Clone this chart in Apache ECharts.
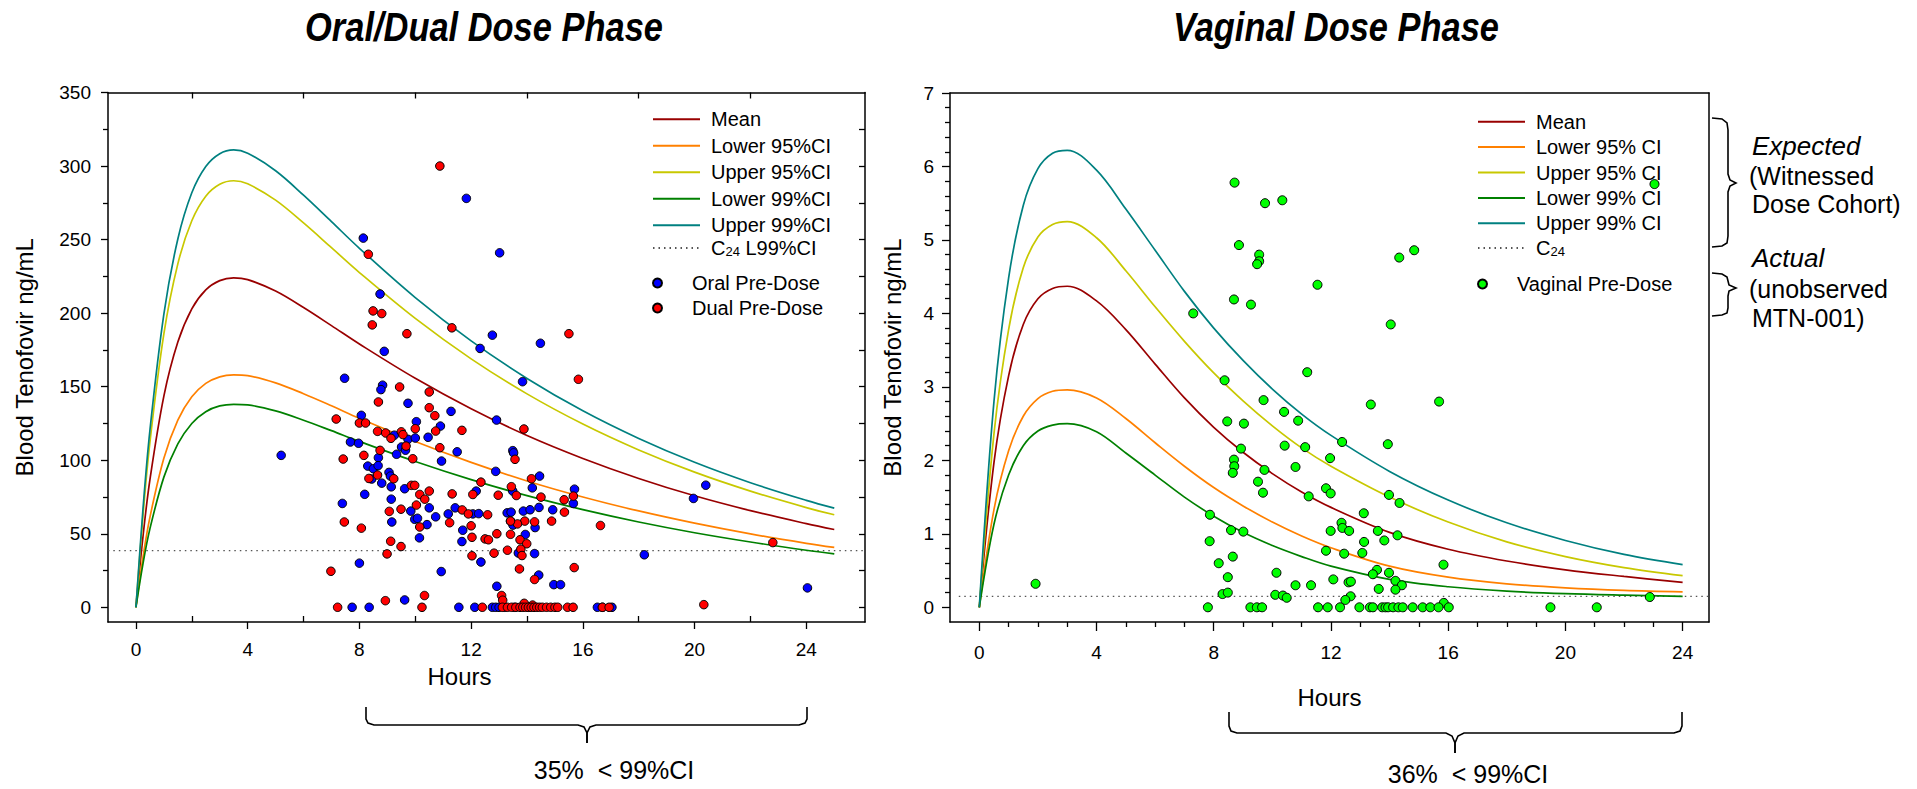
<!DOCTYPE html>
<html><head><meta charset="utf-8">
<script src="https://cdn.jsdelivr.net/npm/echarts@6/dist/echarts.min.js"></script>
<style>html,body{margin:0;padding:0;background:#fff}#c{width:1917px;height:789px}</style>
</head><body><div id="c"></div>
<script>
// ================= DATA =================
// Left panel: Oral/Dual Dose Phase (ng/mL vs hours)
const leftTimes   = [0,0.25,0.5,1,1.5,2,2.5,3,3.5,4,5,6,7,8,10,12,14,16,18,20,22,24,25];
const leftMean    = [0,47.7,86.6,143.6,180.3,202.9,215.8,222.1,224,222.8,215,203.8,191.5,179,155.7,135,116.8,101.2,87.6,75.8,65.7,56.9,52.9];
const leftLow95   = [0,33.7,61.1,101.3,127.2,143.1,152.2,156.7,158,157.5,152.6,145.2,137,128.5,112.7,98.5,85.9,75,65.5,57.2,49.9,43.5,40.7];
const leftUp95    = [0,61.7,112.1,185.9,233.5,262.8,279.5,287.6,290,287.9,276.8,261.3,244.5,227.6,196.4,168.9,145.1,124.6,107,91.9,79,67.8,62.9];
const leftLow99   = [0,29.4,53.3,88.5,111.1,125,133,136.9,138,137.6,133.5,127.2,120.1,112.8,99.1,86.8,75.9,66.4,58,50.7,44.4,38.8,36.3];
const leftUp99    = [0,66.2,120.2,199.4,250.4,281.8,299.7,308.4,311,308.7,296.8,280.2,262.2,244.1,210.6,181.1,155.6,133.6,114.8,98.6,84.7,72.7,67.4];
const leftC24     = 38.5;
const oralPreDose = [
 [11.83,278],[8.14,251],[13.02,241],[8.74,213],[12.76,185],[12.32,176],[14.48,179.5],[8.89,174],
 [7.47,155.7],[13.84,153.4],[8.83,151],[8.77,148],[9.74,138.7],[11.28,133.2],[8.07,130.5],[12.91,127.3],
 [10.04,126.2],[10.9,123.2],[9.25,117],[9.74,114.2],[10.0,115.1],[10.46,115.6],[9.51,109],[9.65,106.8],
 [7.68,112.4],[7.97,111.5],[11.5,105.7],[9.33,104],[8.68,101.7],[10.94,99.4],[13.49,106.5],[13.52,105],
 [8.3,96],[8.5,94.2],[8.67,96.3],[12.88,92.4],[9.06,91.7],[9.11,89.2],[8.44,87.2],[8.8,84.4],[14.45,89.2],
 [14.19,81.2],[9.14,81.9],[9.62,80.6],[12.18,79],[13.49,79],[15.7,80.3],[8.19,76.8],[9.14,73.5],[15.66,70.6],
 [7.39,70.6],[10.5,67.6],[11.43,67.6],[9.84,65.4],[14.92,66.3],[12.06,63.5],[12.27,63.7],[11.18,63.5],
 [10.73,61.5],[13.29,64.2],[13.43,64.7],[13.87,65.4],[14.11,66.3],[14.43,67.9],[14.29,54.2],[13.94,49.5],
 [13.41,58.6],[13.5,55.9],[9.16,58],[9.98,59.8],[10.08,60.5],[10.42,56.2],[11.7,52.4],[11.67,44.7],
 [10.15,47.2],[13.69,36.9],[14.27,36.5],[12.35,30.8],[8.0,30],[10.93,24.3],[14.42,21.9],[14.96,15.4],
 [15.2,15.4],[12.92,14.3],[9.62,5],[5.2,103.3],[18.2,35.7],[24.04,13.2],[19.96,74],[20.4,83],
 [7.74,0],[8.35,0],[11.56,0],[12.13,0],[12.76,0],[12.88,0],[13.0,0],[13.2,0],[13.55,0],[14.05,0],
 [16.52,0],[16.7,0],[17.04,0]
];
const dualPreDose = [
 [10.88,300],[8.32,240],[8.49,201.5],[8.8,199.7],[8.46,192],[9.70,186],[11.31,190],[15.5,186],[15.84,155],
 [9.44,149.8],[10.5,146.4],[8.68,139.6],[10.5,135.7],[10.7,130.3],[7.17,128],[8.0,125.3],[8.22,125.3],
 [13.89,121.2],[11.67,120.3],[10.0,121.4],[10.73,119.8],[8.65,119.6],[8.94,118.5],[9.13,114.9],[9.5,119.3],
 [9.56,117.4],[9.67,109.6],[8.74,106.7],[10.88,108.5],[7.42,100.8],[8.16,103.3],[9.91,101],[13.57,100.6],
 [8.65,89.9],[9.23,87.4],[8.34,87.6],[12.35,85.1],[14.16,87.4],[9.86,82.9],[9.98,82.9],[13.44,82],
 [10.16,76.7],[10.5,79],[11.32,77.1],[12.06,76.7],[12.97,76.2],[13.62,76],[14.5,74.9],[15.33,73.1],
 [15.66,75.6],[10.34,73.5],[10.04,69.5],[9.49,66.7],[9.07,65.2],[15.34,64.7],[11.68,66.2],[11.9,63.5],
 [12.59,62.9],[13.92,58.6],[14.27,58.1],[13.66,56.7],[13.41,58.6],[14.88,58.6],[16.63,55.6],[7.46,58],
 [8.07,53.8],[10.16,54.6],[11.23,57.5],[12.0,55.4],[12.03,47.6],[12.5,46.5],[12.62,45.9],[12.92,50],
 [13.41,49.6],[13.75,45.9],[13.99,43.2],[9.12,44.9],[9.49,41.3],[8.99,36.3],[12.03,35],[12.82,36.8],
 [13.3,38.8],[13.78,39.5],[13.82,35.2],[15.69,27],[6.98,24.5],[13.73,26.1],[14.27,18.9],[13.09,8],
 [13.13,4.8],[10.33,8],[8.93,4.5],[22.8,44],[20.33,1.8],[13.9,2.7],[14.2,1.5],
 [7.22,0],[10.24,0],[12.4,0],[13.12,0],[13.3,0],[13.45,0],[13.6,0],[13.75,0],[13.85,0],[13.95,0],
 [14.05,0],[14.15,0],[14.25,0],[14.35,0],[14.45,0],[14.55,0],[14.7,0],[14.85,0],[15.0,0],[15.1,0],
 [15.45,0],[15.65,0],[16.7,0],[16.94,0]
];
const leftXTicks      = [0,4,8,12,16,20,24];
const leftXMinorTicks = [2,6,10,14,18,22];
const leftYTicks      = [0,50,100,150,200,250,300,350];
const leftYMinorTicks = [25,75,125,175,225,275,325];
const leftYRightTicks = [0,25,50,75,100,125,150,175,200,225,250,275,300,325];

// Right panel: Vaginal Dose Phase
const rightTimes  = [0,0.5,1,1.5,2,2.5,3,4,5,6,7,8,9,10,11,12,14,16,18,20,22,24];
const rightMean   = [0,1.97,3.15,3.85,4.20,4.34,4.37,4.17,3.78,3.31,2.85,2.45,2.11,1.82,1.57,1.36,1.02,0.79,0.63,0.51,0.42,0.34];
const rightLow95  = [0,1.33,2.13,2.60,2.84,2.94,2.96,2.85,2.57,2.24,1.92,1.63,1.38,1.16,0.97,0.81,0.56,0.41,0.32,0.265,0.23,0.21];
const rightUp95   = [0,2.36,3.78,4.62,5.04,5.21,5.25,5.03,4.58,4.09,3.62,3.19,2.81,2.47,2.17,1.92,1.50,1.16,0.89,0.69,0.54,0.43];
const rightLow99  = [0,1.13,1.80,2.20,2.40,2.48,2.50,2.39,2.10,1.80,1.50,1.24,1.02,0.84,0.69,0.56,0.38,0.28,0.22,0.185,0.165,0.15];
const rightUp99   = [0,2.80,4.48,5.47,5.97,6.18,6.22,5.95,5.42,4.86,4.30,3.80,3.36,2.97,2.63,2.34,1.85,1.46,1.15,0.91,0.72,0.58];
const rightC24    = 0.15;
const vaginalPreDose = [
 [8.71,5.78],[9.75,5.50],[10.34,5.54],[8.86,4.93],[9.55,4.80],[9.55,4.71],[9.48,4.67],[11.54,4.39],
 [14.33,4.76],[14.84,4.86],[7.3,4.0],[8.69,4.19],[9.27,4.12],[14.04,3.85],[11.19,3.20],[8.37,3.09],
 [9.7,2.82],[10.4,2.66],[10.88,2.54],[8.46,2.53],[9.03,2.50],[13.36,2.76],[15.69,2.80],[23.04,5.76],
 [12.38,2.25],[13.94,2.22],[8.93,2.16],[10.42,2.20],[11.12,2.18],[11.97,2.03],[8.69,2.01],[8.7,1.92],
 [8.65,1.83],[10.79,1.91],[9.73,1.87],[9.51,1.71],[9.68,1.56],[11.83,1.62],[11.99,1.55],[11.24,1.51],
 [13.98,1.53],[14.34,1.42],[7.87,1.26],[8.59,1.05],[9.01,1.03],[13.12,1.28],[12.36,1.15],[12.39,1.08],
 [12.62,1.04],[11.99,1.04],[13.6,1.04],[14.27,0.98],[13.82,0.91],[13.13,0.89],[7.86,0.90],[11.83,0.77],
 [12.45,0.73],[13.07,0.74],[8.65,0.69],[8.17,0.60],[15.84,0.58],[10.14,0.47],[8.48,0.41],[13.57,0.51],
 [13.43,0.45],[13.98,0.47],[12.08,0.38],[12.6,0.34],[12.68,0.35],[14.2,0.36],[14.42,0.30],[10.79,0.30],
 [11.32,0.30],[13.63,0.25],[14.2,0.24],[8.3,0.18],[8.48,0.20],[10.1,0.17],[10.36,0.16],[10.49,0.13],
 [12.67,0.15],[12.49,0.10],[15.85,0.06],[22.88,0.14],[1.92,0.32],
 [7.8,0],[9.25,0],[9.47,0],[9.65,0],[11.56,0],[11.89,0],[12.31,0],[12.97,0],[13.33,0],[13.43,0],
 [13.75,0],[13.86,0],[13.95,0],[14.12,0],[14.3,0],[14.45,0],[14.79,0],[15.13,0],[15.39,0],[15.67,0],
 [16.02,0],[19.49,0],[21.07,0]
];
const rightXTicks      = [0,4,8,12,16,20,24];
const rightXMinorTicks = [1,2,3,5,6,7,9,10,11,13,14,15,17,18,19,21,22,23];
const rightYTicks      = [0,1,2,3,4,5,6,7];
const rightYMinorTicks = [0.2,0.4,0.6,0.8,1.2,1.4,1.6,1.8,2.2,2.4,2.6,2.8,3.2,3.4,3.6,3.8,4.2,4.4,4.6,4.8,5.2,5.4,5.6,5.8,6.2,6.4,6.6,6.8];

// ================= RENDER =================
const FONT = '"Liberation Sans", Arial, Helvetica, sans-serif';
const COL = {mean:'#990000', low95:'#FF8000', up95:'#C8C800', low99:'#008000', up99:'#008080'};
const pairs = (ts, vs) => ts.map((t, i) => [t, vs[i]]);
const chart = echarts.init(document.getElementById('c'), null, {renderer:'svg'});

const baseAxis = (o) => Object.assign({
  type:'value', splitLine:{show:false},
  axisLine:{show:false, onZero:false, lineStyle:{color:'#000', width:1.5}},
  axisTick:{show:false}, axisLabel:{show:false}
}, o);

function lineSeries(name, xi, ts, vs, color) {
  return {type:'line', name, xAxisIndex:xi, yAxisIndex:xi, data:pairs(ts, vs), symbol:'none', showSymbol:false,
    smooth:0.35, lineStyle:{color, width:1.7}, itemStyle:{color:'rgba(0,0,0,0)', borderWidth:0}, z:2, silent:true, animation:false};
}
function c24Series(name, xi, x0, x1, v) {
  return {type:'line', name, xAxisIndex:xi, yAxisIndex:xi, data:[[x0, v],[x1, v]], symbol:'none', clip:false,
    lineStyle:{color:'#555', width:1.3, type:[1.5,4]}, itemStyle:{color:'rgba(0,0,0,0)', borderWidth:0}, z:1, silent:true, animation:false};
}
function scatterSeries(name, xi, data, color, size) {
  return {type:'scatter', name, xAxisIndex:xi, yAxisIndex:xi, data, symbol:'circle', symbolSize:size,
    itemStyle:{color, borderColor:'#000', borderWidth:1, opacity:1}, z:5, silent:true, animation:false};
}
const legendBase = (o) => Object.assign({orient:'vertical', padding:0, itemWidth:47, itemHeight:14,
  textStyle:{fontFamily:FONT, fontSize:20, color:'#000', lineHeight:20, padding:[0,0,0,6]},
  selectedMode:false, inactiveColor:'#000'}, o);
const lineLegendStyle = {itemStyle:{color:'rgba(0,0,0,0)', borderWidth:0, opacity:0}};

const txt = (x, y, text, size, extra) => ({type:'text', x, y, silent:true,
  style:Object.assign({text, fontFamily:FONT, fontSize:size, fill:'#000', align:'center', verticalAlign:'middle'}, extra || {})});
const brace = (pts) => ({type:'polyline', silent:true, shape:{points:pts}, style:{stroke:'#000', lineWidth:1.6, fill:null}});

const option = {
  animation:false,
  backgroundColor:'#fff',
  textStyle:{fontFamily:FONT},
  grid:[
    {left:108, top:92.5, width:757, height:529.5, outerBoundsMode:'none', containLabel:false},
    {left:950, top:93, width:759, height:529, outerBoundsMode:'none', containLabel:false}
  ],
  xAxis:[
    baseAxis({gridIndex:0, position:'bottom', min:-1, max:26.1,
      axisLine:{show:true, onZero:false, lineStyle:{color:'#000', width:1.5}},
      axisTick:{show:true, length:7, inside:false, customValues:leftXTicks, lineStyle:{color:'#000', width:1.3}},
      axisLabel:{show:true, customValues:leftXTicks, fontSize:19, color:'#000', margin:18, fontFamily:FONT},
      name:'Hours', nameLocation:'middle', nameGap:42,
      nameTextStyle:{fontSize:24, color:'#000', fontFamily:FONT, padding:[0,54,0,0]}}),
    baseAxis({gridIndex:0, position:'bottom', min:-1, max:26.1,
      axisTick:{show:true, length:6, inside:true, customValues:leftXMinorTicks, lineStyle:{color:'#000', width:1.3}}}),
    baseAxis({gridIndex:0, position:'top', min:-1, max:26.1,
      axisLine:{show:true, onZero:false, lineStyle:{color:'#000', width:1.5}},
      axisTick:{show:true, length:6, inside:true, customValues:leftXMinorTicks, lineStyle:{color:'#000', width:1.3}}}),
    baseAxis({gridIndex:1, position:'bottom', min:-1, max:24.9,
      axisLine:{show:true, onZero:false, lineStyle:{color:'#000', width:1.5}},
      axisTick:{show:true, length:9, inside:false, customValues:rightXTicks, lineStyle:{color:'#000', width:1.3}},
      axisLabel:{show:true, customValues:rightXTicks, fontSize:19, color:'#000', margin:21, fontFamily:FONT},
      name:'Hours', nameLocation:'middle', nameGap:63,
      nameTextStyle:{fontSize:24, color:'#000', fontFamily:FONT}}),
    baseAxis({gridIndex:1, position:'bottom', min:-1, max:24.9,
      axisTick:{show:true, length:5, inside:false, customValues:rightXMinorTicks, lineStyle:{color:'#000', width:1.3}}}),
    baseAxis({gridIndex:1, position:'top', min:-1, max:24.9,
      axisLine:{show:true, onZero:false, lineStyle:{color:'#000', width:1.5}}})
  ],
  yAxis:[
    baseAxis({gridIndex:0, position:'left', min:-10, max:350,
      axisLine:{show:true, onZero:false, lineStyle:{color:'#000', width:1.5}},
      axisTick:{show:true, length:7, inside:false, customValues:leftYTicks, lineStyle:{color:'#000', width:1.3}},
      axisLabel:{show:true, customValues:leftYTicks, fontSize:19, color:'#000', margin:17, fontFamily:FONT},
      name:'Blood Tenofovir ng/mL', nameLocation:'middle', nameGap:72,
      nameTextStyle:{fontSize:24, color:'#000', fontFamily:FONT}}),
    baseAxis({gridIndex:0, position:'left', min:-10, max:350,
      axisTick:{show:true, length:5, inside:false, customValues:leftYMinorTicks, lineStyle:{color:'#000', width:1.3}}}),
    baseAxis({gridIndex:0, position:'right', min:-10, max:350,
      axisLine:{show:true, onZero:false, lineStyle:{color:'#000', width:1.5}},
      axisTick:{show:true, length:6, inside:true, customValues:leftYRightTicks, lineStyle:{color:'#000', width:1.3}}}),
    baseAxis({gridIndex:1, position:'left', min:-0.2, max:7,
      axisLine:{show:true, onZero:false, lineStyle:{color:'#000', width:1.5}},
      axisTick:{show:true, length:8, inside:false, customValues:rightYTicks, lineStyle:{color:'#000', width:1.3}},
      axisLabel:{show:true, customValues:rightYTicks, fontSize:19, color:'#000', margin:16, fontFamily:FONT},
      name:'Blood Tenofovir ng/mL', nameLocation:'middle', nameGap:46,
      nameTextStyle:{fontSize:24, color:'#000', fontFamily:FONT}}),
    baseAxis({gridIndex:1, position:'left', min:-0.2, max:7,
      axisTick:{show:true, length:5, inside:false, customValues:rightYMinorTicks, lineStyle:{color:'#000', width:1.3}}}),
    baseAxis({gridIndex:1, position:'right', min:-0.2, max:7,
      axisLine:{show:true, onZero:false, lineStyle:{color:'#000', width:1.5}}})
  ],
  legend:[
    legendBase(Object.assign({left:652, top:109.3, itemGap:6.5,
      data:['Mean','Lower 95%CI','Upper 95%CI','Lower 99%CI','Upper 99%CI']}, lineLegendStyle)),
    legendBase(Object.assign({left:652, top:238, data:['C24 L99%CI'],
      formatter:() => 'C{s|24} L99%CI',
      textStyle:{fontFamily:FONT, fontSize:20, color:'#000', lineHeight:20, padding:[0,0,0,6],
        rich:{s:{fontFamily:FONT, fontSize:13, color:'#000', padding:[14,0,0,0], verticalAlign:'bottom'}}}}, lineLegendStyle)),
    legendBase({left:652, top:273, itemGap:5, itemHeight:9, data:['Oral Pre-Dose','Dual Pre-Dose']}),
    legendBase(Object.assign({left:1477, top:111.7, itemGap:5.4,
      data:['Mean','Lower 95% CI','Upper 95% CI','Lower 99% CI','Upper 99% CI']}, lineLegendStyle)),
    legendBase(Object.assign({left:1477, top:238, data:['C24'],
      formatter:() => 'C{s|24}',
      textStyle:{fontFamily:FONT, fontSize:20, color:'#000', lineHeight:20, padding:[0,0,0,6],
        rich:{s:{fontFamily:FONT, fontSize:13, color:'#000', padding:[14,0,0,0], verticalAlign:'bottom'}}}}, lineLegendStyle)),
    legendBase({left:1477, top:274, itemHeight:9, data:['Vaginal Pre-Dose']})
  ],
  series:[
    lineSeries('Mean', 0, leftTimes, leftMean, COL.mean),
    lineSeries('Lower 95%CI', 0, leftTimes, leftLow95, COL.low95),
    lineSeries('Upper 95%CI', 0, leftTimes, leftUp95, COL.up95),
    lineSeries('Lower 99%CI', 0, leftTimes, leftLow99, COL.low99),
    lineSeries('Upper 99%CI', 0, leftTimes, leftUp99, COL.up99),
    c24Series('C24 L99%CI', 0, -1.4, 26.1, leftC24),
    scatterSeries('Oral Pre-Dose', 0, oralPreDose, '#0000FF', 8.5),
    scatterSeries('Dual Pre-Dose', 0, dualPreDose, '#FF0000', 8.5),
    lineSeries('Mean', 3, rightTimes, rightMean, COL.mean),
    lineSeries('Lower 95% CI', 3, rightTimes, rightLow95, COL.low95),
    lineSeries('Upper 95% CI', 3, rightTimes, rightUp95, COL.up95),
    lineSeries('Lower 99% CI', 3, rightTimes, rightLow99, COL.low99),
    lineSeries('Upper 99% CI', 3, rightTimes, rightUp99, COL.up99),
    c24Series('C24', 3, -0.7, 24.9, rightC24),
    scatterSeries('Vaginal Pre-Dose', 3, vaginalPreDose, '#00FF00', 9)
  ],
  graphic:[
    Object.assign(txt(484, 27, 'Oral/Dual Dose Phase', 41, {fontWeight:'bold', fontStyle:'italic'}), {scaleX:0.84, originX:0, originY:0}),
    Object.assign(txt(1336, 27, 'Vaginal Dose Phase', 41, {fontWeight:'bold', fontStyle:'italic'}), {scaleX:0.84, originX:0, originY:0}),
    brace([[366,707],[366,719],[368,723],[374,725],[578,725],[584,727],[587,733],[587,743]]),
    brace([[587,743],[587,733],[590,727],[596,725],[799,725],[805,723],[807,719],[807,707]]),
    txt(614, 770, '35%\u00a0 < 99%CI', 25),
    brace([[1229,712],[1229,726],[1231,731],[1237,733],[1446,733],[1452,736],[1455,743],[1455,753]]),
    brace([[1455,753],[1455,743],[1458,736],[1464,733],[1674,733],[1680,731],[1682,726],[1682,712]]),
    txt(1468, 774, '36%\u00a0 < 99%CI', 25),
    brace([[1712,118],[1722,119],[1727,123],[1728,130],[1728,174],[1730,180],[1736,183],[1730,186],[1728,192],[1728,236],[1727,243],[1722,246],[1712,247]]),
    brace([[1712,273],[1722,274],[1727,277],[1728,281],[1729,285],[1736,288],[1729,291],[1728,296],[1728,308],[1727,313],[1722,315],[1712,316]]),
    txt(1752, 146, 'Expected', 26, {align:'left', fontStyle:'italic'}),
    txt(1749, 176, '(Witnessed', 25, {align:'left'}),
    txt(1752, 204, 'Dose Cohort)', 25, {align:'left'}),
    txt(1752, 258, 'Actual', 26, {align:'left', fontStyle:'italic'}),
    txt(1749, 289, '(unobserved', 25, {align:'left'}),
    txt(1752, 318, 'MTN-001)', 25, {align:'left'})
  ]
};
chart.setOption(option);
</script></body></html>
